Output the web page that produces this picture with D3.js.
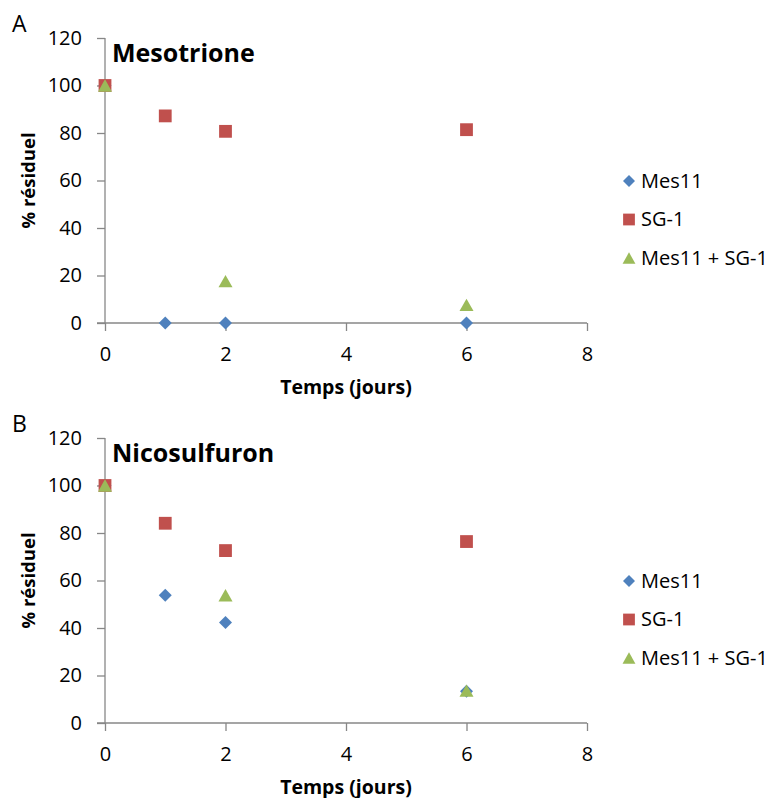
<!DOCTYPE html>
<html><head><meta charset="utf-8">
<script src="https://cdn.jsdelivr.net/npm/d3@7"></script>
<style>
body{margin:0;background:#fff;}
text{font-family:"Open Sans",sans-serif;}
</style></head>
<body>
<svg id="c" width="776" height="798"></svg>
<script>
const days = [0, 1, 2, 6];
const seriesNames = ["Mes11", "SG-1", "Mes11 + SG-1"];
const panelLetters = ["A", "B"];
const panelTitles = ["Mesotrione", "Nicosulfuron"];
// values per panel, per series (aligned with days)
const mesoMes11 = [100, 0, 0, 0];
const mesoSG1 = [100, 87.2, 80.7, 81.4];
const mesoMix = [100, null, 17.6, 7.6];
const nicoMes11 = [100, 53.8, 42.3, 13.4];
const nicoSG1 = [100, 84.1, 72.6, 76.4];
const nicoMix = [100, null, 53.8, 13.6];
const xTicks = [0, 2, 4, 6, 8];
const yTicks = [0, 20, 40, 60, 80, 100, 120];
const colors = ["#4F81BD", "#C0504D", "#9BBB59"];

// Excel-like marker shapes, centred on their bounding box
const diamond = {draw(ctx, r){ ctx.moveTo(0,-r); ctx.lineTo(r,0); ctx.lineTo(0,r); ctx.lineTo(-r,0); ctx.closePath(); }};
const square = {draw(ctx, r){ ctx.rect(-r,-r,2*r,2*r); }};
const triangle = {draw(ctx, r){ const h = r*0.88; ctx.moveTo(0,-h); ctx.lineTo(r,h); ctx.lineTo(-r,h); ctx.closePath(); }};
const shapes = [diamond, square, triangle];
const radii = [6.5, 6.4, 7];

const panels = [
  {letter: panelLetters[0], title: panelTitles[0], data: [mesoMes11, mesoSG1, mesoMix]},
  {letter: panelLetters[1], title: panelTitles[1], data: [nicoMes11, nicoSG1, nicoMix]}
];

const svg = d3.select("#c");
const x = d3.scaleLinear().domain([0, 8]).range([105, 587]);
const y = d3.scaleLinear().domain([0, 120]).range([323, 38]);
const axisColor = "#878787";

panels.forEach((p, i) => {
  const g = svg.append("g").attr("transform", `translate(0,${i * 400})`);
  g.append("text").attr("x", 12).attr("y", 32).attr("font-size", 23).text(p.letter);

  const ya = g.append("g").attr("transform", `translate(${x(0)},0)`)
    .call(d3.axisLeft(y).tickValues(yTicks).tickSize(8).tickPadding(15));
  const xa = g.append("g").attr("transform", `translate(0,${y(0)})`)
    .call(d3.axisBottom(x).tickValues(xTicks).tickSize(8).tickPadding(16));
  [ya, xa].forEach(a => {
    a.select(".domain").attr("stroke", axisColor).attr("stroke-width", 1.3);
    a.selectAll(".tick line").attr("stroke", axisColor).attr("stroke-width", 1.3);
    a.selectAll(".tick text").attr("font-size", 20).attr("fill", "#000").style("font-family", "Open Sans");
  });
  ya.select(".domain").attr("d", `M0,${y(120)}V${y(0)}`);
  xa.select(".domain").attr("d", `M${x(0) - 8},0H${x(8)}`);

  g.append("text").attr("x", 112).attr("y", 62).attr("font-size", 25).attr("font-weight", "bold").text(p.title);
  g.append("text").attr("transform", `translate(35,${y(60)}) rotate(-90)`).attr("text-anchor", "middle")
    .attr("font-size", 18.5).attr("font-weight", "bold").text("% résiduel");
  g.append("text").attr("x", (x(0) + x(8)) / 2).attr("y", 394).attr("text-anchor", "middle")
    .attr("font-size", 19.5).attr("font-weight", "bold").text("Temps (jours)");

  p.data.forEach((vals, s) => {
    g.append("g").selectAll("path").data(days.map((d, k) => ({d, v: vals[k]})).filter(o => o.v !== null))
      .join("path")
      .attr("transform", o => `translate(${x(o.d)},${y(o.v)})`)
      .attr("d", d3.symbol().type(shapes[s]).size(radii[s]))
      .attr("fill", colors[s]);
  });

  const lg = g.append("g");
  seriesNames.forEach((n, s) => {
    const ly = 181 + s * 38.5;
    lg.append("path").attr("transform", `translate(629,${ly})`)
      .attr("d", d3.symbol().type(shapes[s]).size(radii[s] * 0.92)).attr("fill", colors[s]);
    lg.append("text").attr("x", 641).attr("y", ly + 6.5).attr("font-size", 20).text(n);
  });
});
</script>
</body></html>
